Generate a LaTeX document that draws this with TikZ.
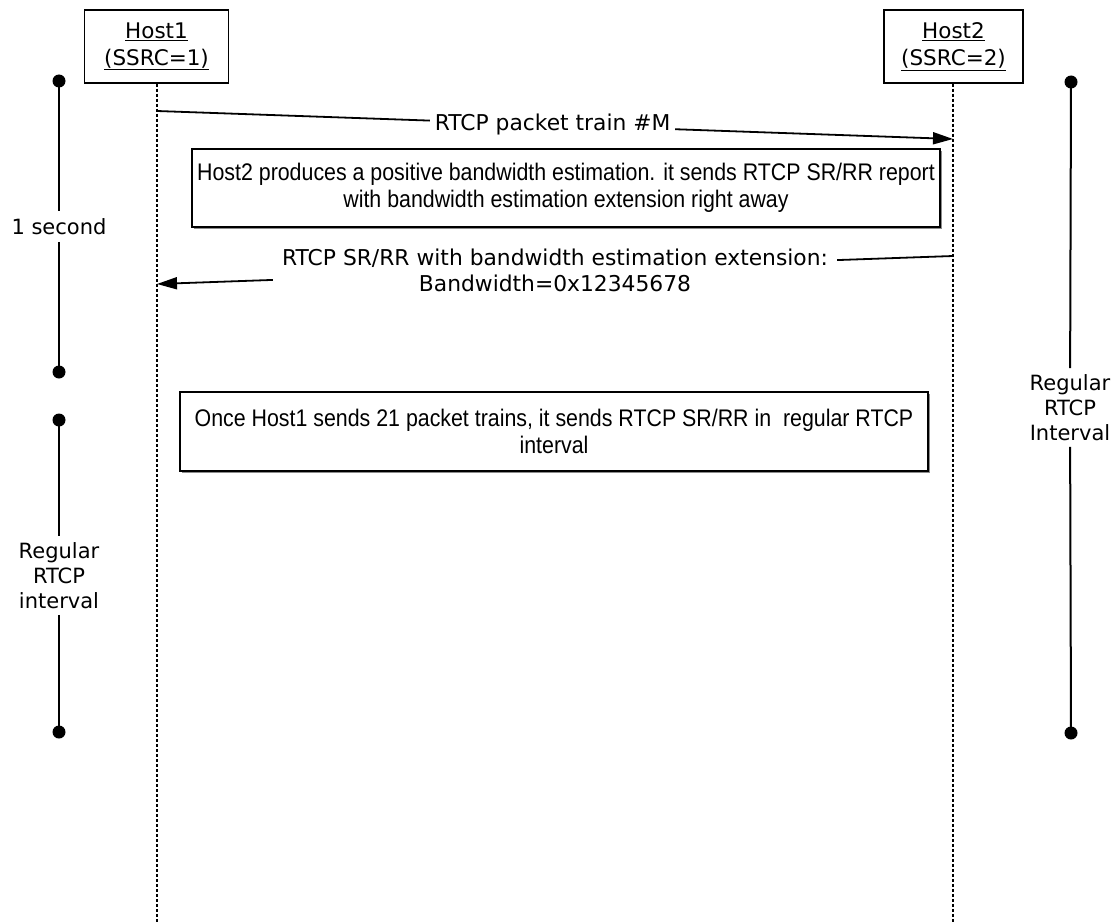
\documentclass[tikz,border=0pt]{standalone}
\usepackage{fontspec}
\setmainfont{DejaVu Sans}
\newfontfamily\boxfont{Liberation Sans}[FakeStretch=0.89]
\usetikzlibrary{arrows.meta,shadows}
\begin{document}
\begin{tikzpicture}[x=1pt,y=-1pt,
  lbl/.style={font=\fontsize{21.8}{26}\selectfont, align=center, inner sep=2pt},
  hostbox/.style={draw, line width=1.5pt, minimum height=73pt, align=center, inner sep=0pt, font=\fontsize{21.5}{27}\selectfont},
  msgbox/.style={draw, fill=white, line width=2.5pt, align=center, inner sep=0pt,
     drop shadow={shadow xshift=1.5pt, shadow yshift=-1.8pt, fill=black!45, opacity=1},
     font=\boxfont\fontsize{24}{27}\selectfont},
  life/.style={line width=1.2pt, dash pattern=on 3pt off 2pt},
  msg/.style={line width=1.8pt, -{Triangle[length=20pt,width=12pt]}},
  tl/.style={line width=2pt},
  dot/.style={circle, fill, inner sep=0pt, minimum size=13pt},
  tlabel/.style={font=\fontsize{21}{25}\selectfont, align=center, inner xsep=2pt},
]
\useasboundingbox (0,0) rectangle (1113,923);

% hosts
\node[hostbox, minimum width=144pt] (h1) at (156.5,46.5) {\underline{Host1}\\\underline{(SSRC=1)}};
\node[hostbox, minimum width=139pt] (h2) at (953.5,46.5) {\underline{Host2}\\\underline{(SSRC=2)}};
\coordinate (h1end) at (157,923);
\coordinate (h2end) at (953,923);
\draw[life] (h1.south -| h1end) -- (h1end);
\draw[life] (h2.south -| h2end) -- (h2end);

% message 1
\coordinate (m1s) at (157,111);
\coordinate (m1e) at (953,139);
\draw[msg] (m1s) -- (m1e) node[pos=0.497, fill=white, lbl, inner xsep=5pt, inner ysep=1pt] (m1l) {RTCP packet train \#M};

% box 1
\node[msgbox, minimum width=748pt, minimum height=78pt] (b1) at (566,188)
  {Host2 produces a positive bandwidth estimation. it sends RTCP SR/RR report\\with bandwidth estimation extension right away};

% message 2
\coordinate (m2s) at (953,256);
\coordinate (m2e) at (157,284);
\draw[msg] (m2s) -- (m2e) node[pos=0.5, fill=white, font=\fontsize{21.8}{26}\selectfont, align=center, inner xsep=9pt, inner ysep=1pt] (m2l)
  {RTCP SR/RR with bandwidth estimation extension:\\Bandwidth=0x12345678};

% box 2
\node[msgbox, minimum width=748pt, minimum height=79pt] (b2) at (554,431.5)
  {Once Host1 sends 21 packet trains, it sends RTCP SR/RR in\ \ regular RTCP\\interval};

% left timeline 1
\node[dot] (l1a) at (59,81) {};
\node[dot] (l1b) at (59,372) {};
\node[tlabel, inner ysep=7pt] (l1t) at (59,226.5) {1 second};
\draw[tl] (l1a.center) -- (l1t);
\draw[tl] (l1t) -- (l1b.center);

% left timeline 2
\node[dot] (l2a) at (59,420) {};
\node[dot] (l2b) at (59,732) {};
\node[tlabel, inner ysep=6pt] (l2t) at (59,575.5) {Regular\\RTCP\\interval};
\draw[tl] (l2a.center) -- (l2t);
\draw[tl] (l2t) -- (l2b.center);

% right timeline
\node[dot] (ra) at (1071,82) {};
\node[dot] (rb) at (1071,733) {};
\node[tlabel, inner ysep=6pt] (rt) at (1070,407.5) {Regular\\RTCP\\Interval};
\draw[tl] (ra.center) -- (rt);
\draw[tl] (rt) -- (rb.center);
\end{tikzpicture}
\end{document}
